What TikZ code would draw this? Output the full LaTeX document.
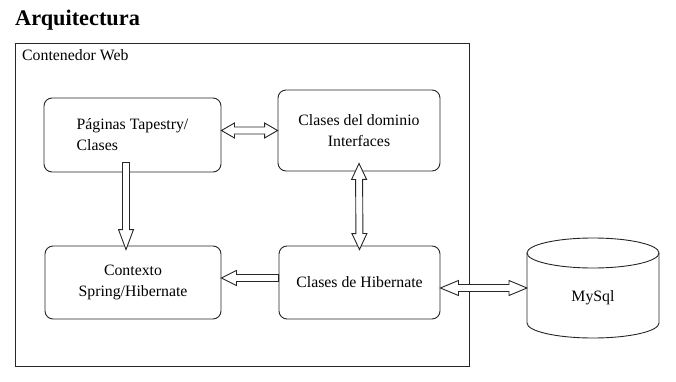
\documentclass[tikz,border=0pt]{standalone}
\usepackage{fontspec}
\setmainfont{Liberation Serif}
\usepackage{tikz}
\usetikzlibrary{arrows.meta,positioning,calc}

% hollow block arrows: #1 tail, #2 tip, #3 head length
\newcommand{\blockarrow}[3]{%
  \coordinate (hb) at ($(#2)!#3!(#1)$);
  \filldraw[hueca] ($(#1)!3.5pt!90:(#2)$) -- ($(hb)!3.5pt!-90:(#1)$) -- ($(hb)!7.5pt!-90:(#1)$) -- (#2)
    -- ($(hb)!7.5pt!90:(#1)$) -- ($(hb)!3.5pt!90:(#1)$) -- ($(#1)!3.5pt!-90:(#2)$) -- cycle;
}
% same, with a head at both ends
\newcommand{\blockarrows}[3]{%
  \coordinate (ha) at ($(#1)!#3!(#2)$);
  \coordinate (hb) at ($(#2)!#3!(#1)$);
  \filldraw[hueca] (#1) -- ($(ha)!7.5pt!90:(#2)$) -- ($(ha)!3.5pt!90:(#2)$) -- ($(hb)!3.5pt!-90:(#1)$)
    -- ($(hb)!7.5pt!-90:(#1)$) -- (#2) -- ($(hb)!7.5pt!90:(#1)$) -- ($(hb)!3.5pt!90:(#1)$)
    -- ($(ha)!3.5pt!-90:(#2)$) -- ($(ha)!7.5pt!-90:(#2)$) -- cycle;
}

\begin{document}
\begin{tikzpicture}[x=1pt, y=-1pt, every node/.style={font=\fontsize{15.8}{21}\selectfont},
  caja/.style={draw=black!85, line width=0.9pt, rounded corners=8pt, fill=white, align=center, inner sep=0pt},
  hueca/.style={draw=black!85, fill=white, line width=0.9pt, line join=miter},
  tambor/.style={draw=black!85, line width=0.9pt}]
  \useasboundingbox (0,0) rectangle (676,382);
  % Title and container
  \node[anchor=base west, inner sep=0pt, font=\fontsize{22.3}{26}\selectfont\bfseries] (titulo) at (15,26) {Arquitectura};
  \node[draw=black!85, line width=0.8pt, minimum width=454, minimum height=323, inner sep=0pt] (web) at (242,204.5) {};
  \node[anchor=base west, inner sep=0pt] (webtxt) at (22,61) {Contenedor Web};
  % Boxes
  \node[caja, minimum width=177, minimum height=74, align=left] (pag) at (132.5,135) {P\'aginas Tapestry/\\Clases};
  \node[caja, minimum width=162, minimum height=81] (dom) at (359,130.5) {Clases del dominio\\Interfaces};
  \node[caja, minimum width=176, minimum height=73] (ctx) at (133,282.5) {Contexto\\Spring/Hibernate};
  \node[caja, minimum width=161, minimum height=73] (hib) at (359.5,282.5) {Clases de Hibernate};
  % Database drum
  \node[minimum width=132, minimum height=100, inner sep=0pt, outer sep=0pt,
    label={[yshift=-10pt]center:MySql}] (db) at (593,288) {};
  \draw[tambor] ([yshift=-15pt]db.north west) -- ([yshift=15pt]db.south west)
    arc[start angle=180, end angle=360, x radius=66pt, y radius=15pt] -- ([yshift=-15pt]db.north east)
    arc[start angle=0, end angle=180, x radius=66pt, y radius=15pt];
  \draw[tambor] ([yshift=-15pt]db.north west) arc[start angle=180, end angle=360, x radius=66pt, y radius=15pt];
  % Arrows
  \coordinate (a1) at (pag.east |- dom.west);
  \blockarrows{a1}{dom.west}{13pt}
  \coordinate (a2) at ([xshift=-6.5pt,yshift=10pt]pag.south);
  \coordinate (b2) at ([xshift=-7pt,yshift=-4pt]ctx.north);
  \blockarrow{a2}{b2}{20pt}
  \coordinate (a3) at ([yshift=8pt]dom.south);
  \coordinate (b3) at ([yshift=-4pt]hib.north);
  \blockarrows{a3}{b3}{16pt}
  \coordinate (a4) at ([yshift=4.5pt]hib.west);
  \coordinate (b4) at (ctx.east |- a4);
  \blockarrow{a4}{b4}{15pt}
  \coordinate (a5) at ([yshift=-5.5pt]hib.east);
  \coordinate (b5) at (db.west |- a5);
  \blockarrows{a5}{b5}{18pt}
\end{tikzpicture}
\end{document}
